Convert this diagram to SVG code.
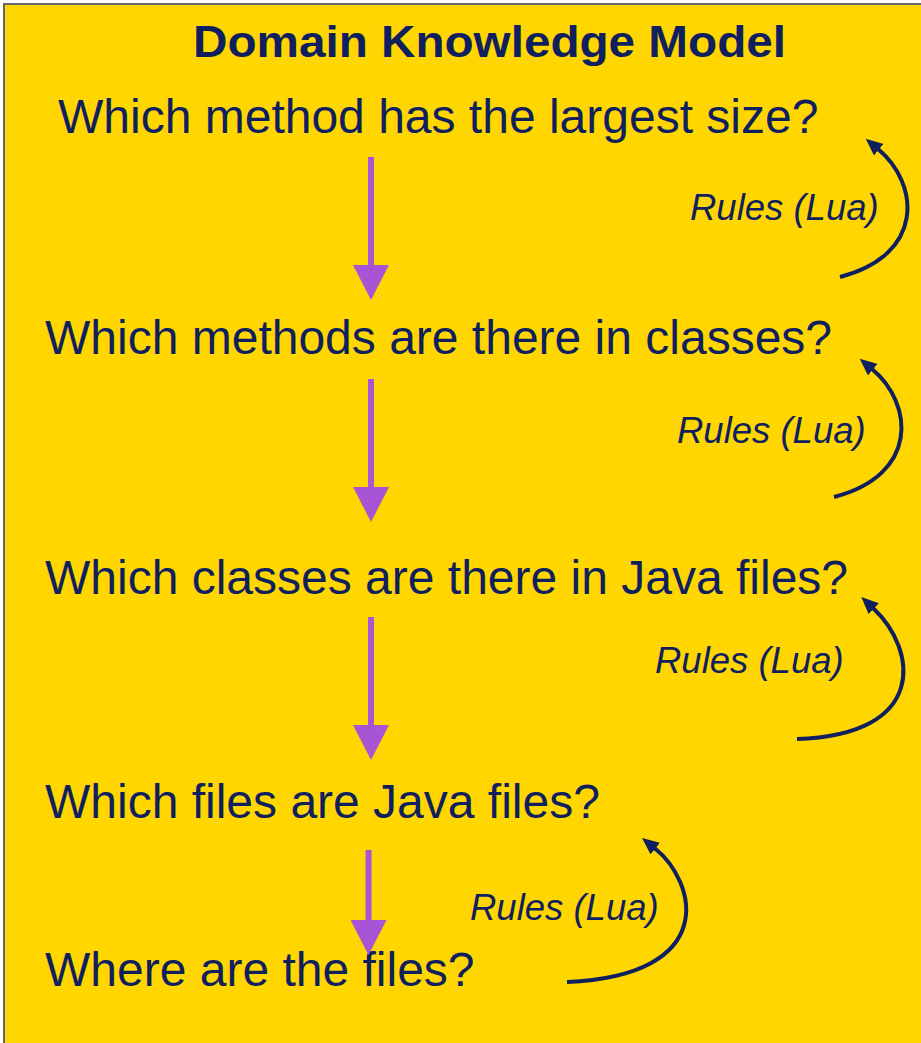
<svg xmlns="http://www.w3.org/2000/svg" width="921" height="1043" viewBox="0 0 921 1043">
  <style>
    .q { font-family: "Liberation Sans", Arial, sans-serif; font-size: 48px; fill: #101F5E; }
    .title { font-family: "Liberation Sans", Arial, sans-serif; font-size: 44px; font-weight: bold; fill: #101F5E; }
    .rule { font-family: "Liberation Sans", Arial, sans-serif; font-size: 36.5px; font-style: italic; fill: #101F5E; }
    .down { stroke: #A855D5; stroke-width: 6; fill: none; }
    .loop { stroke: #101F5E; stroke-width: 4; fill: none; }
  </style>
  <defs>
    <marker id="purpleHead" markerUnits="userSpaceOnUse" markerWidth="35" markerHeight="36" viewBox="0 0 35 36" refX="0" refY="18" orient="auto">
      <path d="M0,0 L35,18 L0,36 z" fill="#A855D5"/>
    </marker>
    <marker id="navyHead" markerUnits="userSpaceOnUse" markerWidth="17" markerHeight="15" viewBox="0 0 17 15" refX="1" refY="7.5" orient="auto">
      <path d="M0,0 L17,7.5 L0,15 z" fill="#101F5E"/>
    </marker>
  </defs>
  <rect x="4" y="4" width="940" height="1060" fill="#FFD600" stroke="#666666" stroke-width="2"/>

  <g id="title">
    <text class="title" x="193" y="57" textLength="593" lengthAdjust="spacingAndGlyphs">Domain Knowledge Model</text>
  </g>
  <g id="q1"><text class="q" x="58" y="133">Which method has the largest size?</text></g>
  <g id="q2"><text class="q" x="45" y="354">Which methods are there in classes?</text></g>
  <g id="q3"><text class="q" x="45" y="594">Which classes are there in Java files?</text></g>
  <g id="q4"><text class="q" x="45" y="818">Which files are Java files?</text></g>
  <g id="q5"><text class="q" x="45" y="986">Where are the files?</text></g>

  <g id="connectors">
    <line class="down" x1="371" y1="157" x2="371" y2="265" marker-end="url(#purpleHead)"/>
    <line class="down" x1="371" y1="379" x2="371" y2="487" marker-end="url(#purpleHead)"/>
    <line class="down" x1="371" y1="617" x2="371" y2="725" marker-end="url(#purpleHead)"/>
    <line class="down" x1="368.5" y1="850" x2="368.5" y2="920" marker-end="url(#purpleHead)"/>

    <path class="loop" d="M840,277 C925,255 920,184 878,149" marker-end="url(#navyHead)"/>
    <path class="loop" d="M834,497 C919,475 914,404 872,369" marker-end="url(#navyHead)"/>
    <path class="loop" d="M797,739 C928,735 918,650 873,608" marker-end="url(#navyHead)"/>
    <path class="loop" d="M567,982 C720,975 697,882 654.5,848" marker-end="url(#navyHead)"/>
  </g>

  <g id="labels">
    <text class="rule" x="690" y="220">Rules (Lua)</text>
    <text class="rule" x="677" y="443">Rules (Lua)</text>
    <text class="rule" x="655" y="673">Rules (Lua)</text>
    <text class="rule" x="470" y="920">Rules (Lua)</text>
  </g>
</svg>
